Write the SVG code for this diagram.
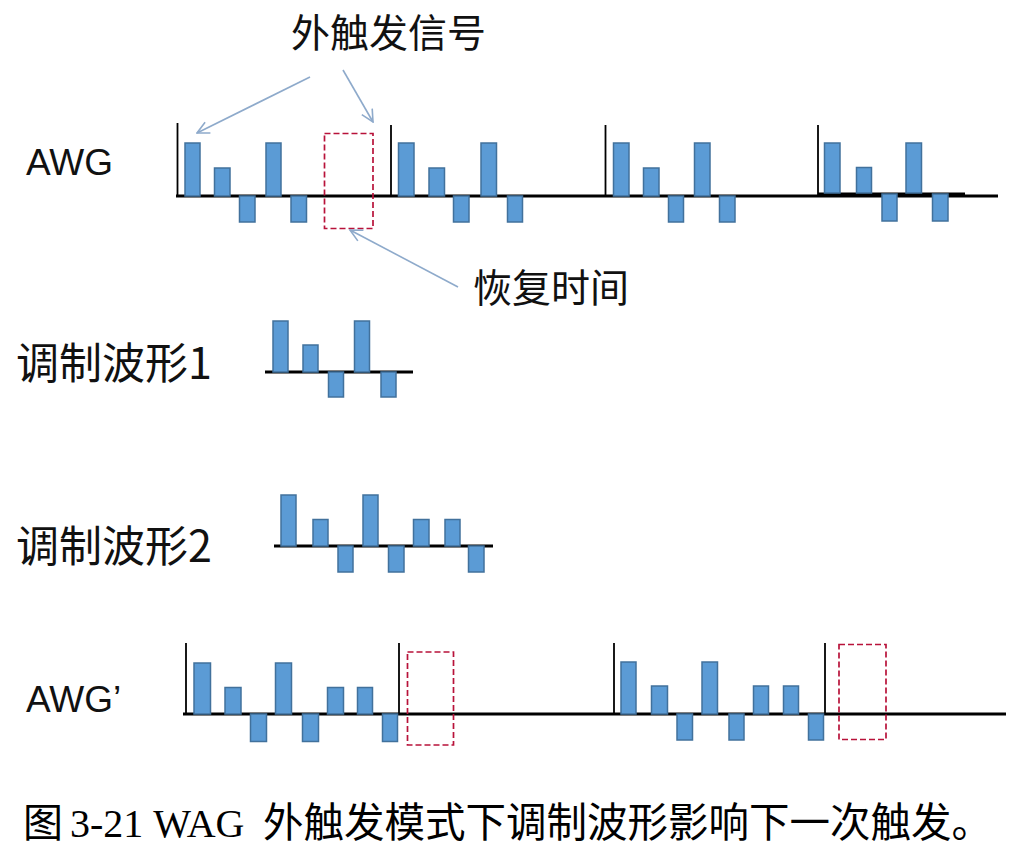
<svg xmlns="http://www.w3.org/2000/svg" width="1027" height="853" viewBox="0 0 1027 853">
<defs>
<style>
.bar{fill:#5B9BD5;stroke:#41719C;stroke-width:1.5}
.base{stroke:#000;stroke-width:3;fill:none}
.vl{stroke:#000;stroke-width:1.8;fill:none}
.gap{fill:none;stroke:#B8123A;stroke-width:1.7;stroke-dasharray:6 3}
.lbl{font-family:"Liberation Sans",Arial,sans-serif;font-size:37px;fill:#111}
.cjk{font-family:"Noto Sans CJK SC",sans-serif;fill:#111}
.cap{font-family:"Liberation Serif","Noto Sans CJK SC",serif;font-size:40px;fill:#000}
.arr{stroke:#8EAACB;stroke-width:1.6;fill:none;marker-end:url(#ah)}
</style>
<marker id="ah" viewBox="0 0 14 14" refX="13" refY="7" markerWidth="14" markerHeight="14" markerUnits="userSpaceOnUse" orient="auto">
<path d="M1,1 L13,7 L1,13" fill="none" stroke="#8EAACB" stroke-width="1.6"/>
</marker>
</defs>
<rect width="1027" height="853" fill="#fff"/>

<g id="label-awg"><text class="lbl" x="26" y="175">AWG</text></g>
<g id="label-wave1"><text class="cjk" x="16" y="379" font-size="43">调制波形1</text></g>
<g id="label-wave2"><text class="cjk" x="16" y="562" font-size="43">调制波形2</text></g>
<g id="label-awg2"><text class="lbl" x="26" y="712">AWG’</text></g>
<g id="label-trigger"><text class="cjk" x="291" y="47" font-size="39">外触发信号</text></g>
<g id="label-recovery"><text class="cjk" x="473" y="302" font-size="39">恢复时间</text></g>

<g id="awg">
<line class="base" x1="176" y1="196" x2="998" y2="196"/>
<line class="base" x1="818" y1="194" x2="965" y2="194"/>
<line class="vl" x1="177.5" y1="123" x2="177.5" y2="196" stroke-width="2.2"/>
<line class="vl" x1="391" y1="125" x2="391" y2="196" stroke-width="2"/>
<line class="vl" x1="605.5" y1="125" x2="605.5" y2="196"/>
<line class="vl" x1="818" y1="125" x2="818" y2="196"/>
<rect class="bar" x="185" y="143" width="15" height="53"/>
<rect class="bar" x="214.5" y="168" width="15.5" height="28"/>
<rect class="bar" x="239.5" y="196" width="15.5" height="26"/>
<rect class="bar" x="266" y="143" width="15" height="53"/>
<rect class="bar" x="291" y="196" width="15.5" height="26"/>
<rect class="gap" x="324.5" y="133.5" width="48.5" height="95"/>
<rect class="bar" x="398.5" y="143" width="15.5" height="53"/>
<rect class="bar" x="429" y="168" width="15.5" height="28"/>
<rect class="bar" x="453.5" y="196" width="15.5" height="26"/>
<rect class="bar" x="481" y="143" width="15.5" height="53"/>
<rect class="bar" x="507.5" y="196" width="15" height="26"/>
<rect class="bar" x="613.5" y="143" width="15.5" height="53"/>
<rect class="bar" x="643.5" y="168" width="15.5" height="28"/>
<rect class="bar" x="668.5" y="196" width="15" height="26"/>
<rect class="bar" x="694.5" y="143" width="15.5" height="53"/>
<rect class="bar" x="719.5" y="196" width="15.5" height="26"/>
<rect class="bar" x="824.5" y="143" width="15.5" height="50"/>
<rect class="bar" x="856.5" y="167.5" width="15" height="25.5"/>
<rect class="bar" x="882" y="194" width="15" height="27"/>
<rect class="bar" x="906" y="143" width="15.5" height="50"/>
<rect class="bar" x="932.5" y="194" width="15.5" height="27"/>
</g>

<g id="wave1">
<line class="base" x1="265" y1="372" x2="413" y2="372"/>
<rect class="bar" x="273" y="321" width="15" height="51"/>
<rect class="bar" x="303" y="345" width="15" height="27"/>
<rect class="bar" x="328.5" y="372" width="15" height="25"/>
<rect class="bar" x="354.5" y="321" width="15" height="51"/>
<rect class="bar" x="381" y="372" width="15" height="25"/>
</g>

<g id="wave2">
<line class="base" x1="274" y1="546" x2="493" y2="546"/>
<rect class="bar" x="281" y="495" width="15" height="51"/>
<rect class="bar" x="313" y="519.5" width="15" height="26.5"/>
<rect class="bar" x="338" y="546" width="15" height="26"/>
<rect class="bar" x="363" y="495" width="15" height="51"/>
<rect class="bar" x="388.5" y="546" width="15.5" height="26"/>
<rect class="bar" x="413.5" y="519.5" width="15.5" height="26.5"/>
<rect class="bar" x="445" y="519.5" width="15" height="26.5"/>
<rect class="bar" x="468.5" y="546" width="15.5" height="26"/>
</g>

<g id="awg2">
<line class="base" x1="183" y1="714" x2="1006" y2="714"/>
<line class="vl" x1="186" y1="643" x2="186" y2="714"/>
<line class="vl" x1="399" y1="643" x2="399" y2="714" stroke-width="2"/>
<line class="vl" x1="614" y1="643" x2="614" y2="714" stroke-width="2"/>
<line class="vl" x1="825" y1="643" x2="825" y2="714"/>
<rect class="bar" x="194" y="663" width="16.5" height="51"/>
<rect class="bar" x="225" y="687.5" width="16" height="26.5"/>
<rect class="bar" x="250.5" y="714" width="16" height="27.5"/>
<rect class="bar" x="275.5" y="663" width="16" height="51"/>
<rect class="bar" x="302.5" y="714" width="16" height="27.5"/>
<rect class="bar" x="327.5" y="687.5" width="16" height="26.5"/>
<rect class="bar" x="357.5" y="687.5" width="15" height="26.5"/>
<rect class="bar" x="382.5" y="714" width="15" height="27.5"/>
<rect class="gap" x="407.5" y="652" width="46" height="93"/>
<rect class="bar" x="621" y="662" width="15" height="52"/>
<rect class="bar" x="651.5" y="686" width="16" height="28"/>
<rect class="bar" x="677" y="714" width="15.5" height="26"/>
<rect class="bar" x="702" y="662" width="15.5" height="52"/>
<rect class="bar" x="729" y="714" width="15" height="26"/>
<rect class="bar" x="753.5" y="686" width="15" height="28"/>
<rect class="bar" x="783.5" y="686" width="15" height="28"/>
<rect class="bar" x="808.5" y="714" width="15" height="26"/>
<rect class="gap" x="839" y="644.5" width="47" height="95"/>
</g>

<g id="connectors">
<line class="arr" x1="310" y1="77" x2="197" y2="133"/>
<line class="arr" x1="343" y1="70" x2="373" y2="122"/>
<line class="arr" x1="458" y1="287" x2="350" y2="230"/>
</g>

<g id="caption">
<text class="cap" y="837"><tspan x="23">图</tspan><tspan x="70">3-21 WAG</tspan><tspan x="263" font-family="Noto Sans CJK SC,sans-serif" font-size="40.5">外触发模式下调制波形影响下一次触发。</tspan></text>
</g>
</svg>
